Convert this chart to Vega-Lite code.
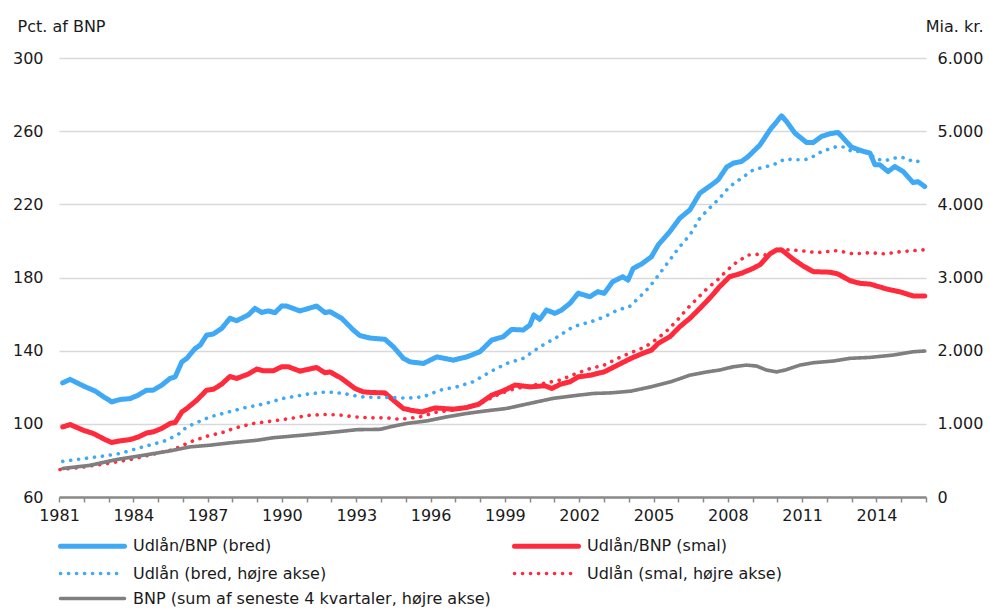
{
  "$schema": "https://vega.github.io/schema/vega-lite/v6.json",
  "width": 867,
  "height": 439,
  "autosize": {"type": "none"},
  "padding": {"left": 59, "top": 58, "right": 64, "bottom": 113},
  "background": "white",
  "config": {
    "font": "DejaVu Sans",
    "view": {"stroke": null},
    "axis": {"labelFont": "DejaVu Sans", "labelFontSize": 16, "labelColor": "#1a1a1a", "titleFont": "DejaVu Sans", "titleFontSize": 16, "titleFontWeight": "normal", "titleColor": "#1a1a1a"},
    "legend": {"labelFont": "DejaVu Sans", "labelFontSize": 16, "labelColor": "#1a1a1a"}
  },
  "datasets": {
    "left": [
      {"s":"Udlån/BNP (bred)","t":1981.15,"v":122.4},{"s":"Udlån/BNP (bred)","t":1981.45,"v":124.3},{"s":"Udlån/BNP (bred)","t":1982.0,"v":120.6},{"s":"Udlån/BNP (bred)","t":1982.46,"v":117.9},{"s":"Udlån/BNP (bred)","t":1982.8,"v":114.8},{"s":"Udlån/BNP (bred)","t":1983.13,"v":112.0},{"s":"Udlån/BNP (bred)","t":1983.47,"v":113.3},{"s":"Udlån/BNP (bred)","t":1983.87,"v":113.8},{"s":"Udlån/BNP (bred)","t":1984.2,"v":115.7},{"s":"Udlån/BNP (bred)","t":1984.54,"v":118.4},{"s":"Udlån/BNP (bred)","t":1984.8,"v":118.4},{"s":"Udlån/BNP (bred)","t":1985.15,"v":121.2},{"s":"Udlån/BNP (bred)","t":1985.48,"v":124.8},{"s":"Udlån/BNP (bred)","t":1985.69,"v":125.7},{"s":"Udlån/BNP (bred)","t":1985.96,"v":133.9},{"s":"Udlån/BNP (bred)","t":1986.16,"v":135.8},{"s":"Udlån/BNP (bred)","t":1986.5,"v":141.2},{"s":"Udlån/BNP (bred)","t":1986.7,"v":143.0},{"s":"Udlån/BNP (bred)","t":1986.96,"v":148.5},{"s":"Udlån/BNP (bred)","t":1987.23,"v":149.1},{"s":"Udlån/BNP (bred)","t":1987.57,"v":152.2},{"s":"Udlån/BNP (bred)","t":1987.9,"v":157.7},{"s":"Udlån/BNP (bred)","t":1988.17,"v":156.4},{"s":"Udlån/BNP (bred)","t":1988.64,"v":159.5},{"s":"Udlån/BNP (bred)","t":1988.91,"v":163.1},{"s":"Udlån/BNP (bred)","t":1989.18,"v":160.9},{"s":"Udlån/BNP (bred)","t":1989.45,"v":161.7},{"s":"Udlån/BNP (bred)","t":1989.72,"v":160.8},{"s":"Udlån/BNP (bred)","t":1989.99,"v":164.4},{"s":"Udlån/BNP (bred)","t":1990.19,"v":164.4},{"s":"Udlån/BNP (bred)","t":1990.73,"v":161.7},{"s":"Udlån/BNP (bred)","t":1991.4,"v":164.4},{"s":"Udlån/BNP (bred)","t":1991.74,"v":160.8},{"s":"Udlån/BNP (bred)","t":1991.94,"v":161.3},{"s":"Udlån/BNP (bred)","t":1992.41,"v":157.7},{"s":"Udlån/BNP (bred)","t":1992.88,"v":151.3},{"s":"Udlån/BNP (bred)","t":1993.15,"v":148.2},{"s":"Udlån/BNP (bred)","t":1993.55,"v":146.9},{"s":"Udlån/BNP (bred)","t":1994.16,"v":146.2},{"s":"Udlån/BNP (bred)","t":1994.5,"v":142.1},{"s":"Udlån/BNP (bred)","t":1994.9,"v":135.8},{"s":"Udlån/BNP (bred)","t":1995.17,"v":133.9},{"s":"Udlån/BNP (bred)","t":1995.71,"v":133.0},{"s":"Udlån/BNP (bred)","t":1996.25,"v":136.6},{"s":"Udlån/BNP (bred)","t":1996.92,"v":134.8},{"s":"Udlån/BNP (bred)","t":1997.46,"v":136.6},{"s":"Udlån/BNP (bred)","t":1997.99,"v":139.4},{"s":"Udlån/BNP (bred)","t":1998.47,"v":145.8},{"s":"Udlån/BNP (bred)","t":1998.93,"v":147.6},{"s":"Udlån/BNP (bred)","t":1999.27,"v":151.6},{"s":"Udlån/BNP (bred)","t":1999.74,"v":151.3},{"s":"Udlån/BNP (bred)","t":2000.01,"v":154.0},{"s":"Udlån/BNP (bred)","t":2000.17,"v":159.5},{"s":"Udlån/BNP (bred)","t":2000.41,"v":157.1},{"s":"Udlån/BNP (bred)","t":2000.68,"v":162.2},{"s":"Udlån/BNP (bred)","t":2001.02,"v":160.4},{"s":"Udlån/BNP (bred)","t":2001.29,"v":162.2},{"s":"Udlån/BNP (bred)","t":2001.63,"v":165.9},{"s":"Udlån/BNP (bred)","t":2001.96,"v":171.4},{"s":"Udlån/BNP (bred)","t":2002.43,"v":169.5},{"s":"Udlån/BNP (bred)","t":2002.74,"v":172.2},{"s":"Udlån/BNP (bred)","t":2003.01,"v":171.3},{"s":"Udlån/BNP (bred)","t":2003.35,"v":177.7},{"s":"Udlån/BNP (bred)","t":2003.76,"v":180.4},{"s":"Udlån/BNP (bred)","t":2003.97,"v":178.6},{"s":"Udlån/BNP (bred)","t":2004.18,"v":185.0},{"s":"Udlån/BNP (bred)","t":2004.52,"v":187.4},{"s":"Udlån/BNP (bred)","t":2004.92,"v":191.4},{"s":"Udlån/BNP (bred)","t":2005.19,"v":197.8},{"s":"Udlån/BNP (bred)","t":2005.66,"v":205.1},{"s":"Udlån/BNP (bred)","t":2006.06,"v":212.4},{"s":"Udlån/BNP (bred)","t":2006.47,"v":217.0},{"s":"Udlån/BNP (bred)","t":2006.87,"v":226.1},{"s":"Udlån/BNP (bred)","t":2007.34,"v":230.6},{"s":"Udlån/BNP (bred)","t":2007.61,"v":233.4},{"s":"Udlån/BNP (bred)","t":2007.95,"v":240.3},{"s":"Udlån/BNP (bred)","t":2008.22,"v":242.5},{"s":"Udlån/BNP (bred)","t":2008.55,"v":243.4},{"s":"Udlån/BNP (bred)","t":2008.82,"v":246.1},{"s":"Udlån/BNP (bred)","t":2009.3,"v":252.5},{"s":"Udlån/BNP (bred)","t":2009.7,"v":260.7},{"s":"Udlån/BNP (bred)","t":2010.17,"v":268.4},{"s":"Udlån/BNP (bred)","t":2010.37,"v":265.3},{"s":"Udlån/BNP (bred)","t":2010.71,"v":258.9},{"s":"Udlån/BNP (bred)","t":2011.18,"v":253.8},{"s":"Udlån/BNP (bred)","t":2011.45,"v":253.8},{"s":"Udlån/BNP (bred)","t":2011.78,"v":257.1},{"s":"Udlån/BNP (bred)","t":2012.12,"v":258.6},{"s":"Udlån/BNP (bred)","t":2012.45,"v":259.3},{"s":"Udlån/BNP (bred)","t":2012.66,"v":256.2},{"s":"Udlån/BNP (bred)","t":2012.99,"v":251.3},{"s":"Udlån/BNP (bred)","t":2013.4,"v":249.3},{"s":"Udlån/BNP (bred)","t":2013.74,"v":248.0},{"s":"Udlån/BNP (bred)","t":2013.94,"v":241.6},{"s":"Udlån/BNP (bred)","t":2014.14,"v":241.6},{"s":"Udlån/BNP (bred)","t":2014.47,"v":237.9},{"s":"Udlån/BNP (bred)","t":2014.74,"v":240.7},{"s":"Udlån/BNP (bred)","t":2015.08,"v":237.9},{"s":"Udlån/BNP (bred)","t":2015.48,"v":231.9},{"s":"Udlån/BNP (bred)","t":2015.68,"v":232.4},{"s":"Udlån/BNP (bred)","t":2015.95,"v":229.7},
      {"s":"Udlån/BNP (smal)","t":1981.15,"v":98.3},{"s":"Udlån/BNP (smal)","t":1981.45,"v":99.6},{"s":"Udlån/BNP (smal)","t":1981.98,"v":96.5},{"s":"Udlån/BNP (smal)","t":1982.39,"v":94.7},{"s":"Udlån/BNP (smal)","t":1982.86,"v":91.4},{"s":"Udlån/BNP (smal)","t":1983.13,"v":89.8},{"s":"Udlån/BNP (smal)","t":1983.47,"v":90.7},{"s":"Udlån/BNP (smal)","t":1983.87,"v":91.4},{"s":"Udlån/BNP (smal)","t":1984.2,"v":92.8},{"s":"Udlån/BNP (smal)","t":1984.54,"v":95.0},{"s":"Udlån/BNP (smal)","t":1984.8,"v":95.6},{"s":"Udlån/BNP (smal)","t":1985.15,"v":97.5},{"s":"Udlån/BNP (smal)","t":1985.48,"v":100.2},{"s":"Udlån/BNP (smal)","t":1985.69,"v":100.7},{"s":"Udlån/BNP (smal)","t":1985.96,"v":106.5},{"s":"Udlån/BNP (smal)","t":1986.16,"v":108.4},{"s":"Udlån/BNP (smal)","t":1986.56,"v":112.9},{"s":"Udlån/BNP (smal)","t":1986.96,"v":118.4},{"s":"Udlån/BNP (smal)","t":1987.23,"v":118.9},{"s":"Udlån/BNP (smal)","t":1987.57,"v":121.7},{"s":"Udlån/BNP (smal)","t":1987.9,"v":125.9},{"s":"Udlån/BNP (smal)","t":1988.17,"v":124.8},{"s":"Udlån/BNP (smal)","t":1988.64,"v":127.2},{"s":"Udlån/BNP (smal)","t":1988.98,"v":129.9},{"s":"Udlån/BNP (smal)","t":1989.25,"v":129.0},{"s":"Udlån/BNP (smal)","t":1989.65,"v":129.0},{"s":"Udlån/BNP (smal)","t":1989.99,"v":131.2},{"s":"Udlån/BNP (smal)","t":1990.26,"v":131.2},{"s":"Udlån/BNP (smal)","t":1990.73,"v":128.8},{"s":"Udlån/BNP (smal)","t":1991.4,"v":130.8},{"s":"Udlån/BNP (smal)","t":1991.74,"v":127.9},{"s":"Udlån/BNP (smal)","t":1991.94,"v":128.4},{"s":"Udlån/BNP (smal)","t":1992.41,"v":124.8},{"s":"Udlån/BNP (smal)","t":1992.95,"v":119.3},{"s":"Udlån/BNP (smal)","t":1993.28,"v":117.5},{"s":"Udlån/BNP (smal)","t":1993.55,"v":117.2},{"s":"Udlån/BNP (smal)","t":1994.16,"v":116.9},{"s":"Udlån/BNP (smal)","t":1994.5,"v":112.9},{"s":"Udlån/BNP (smal)","t":1994.9,"v":108.4},{"s":"Udlån/BNP (smal)","t":1995.17,"v":107.5},{"s":"Udlån/BNP (smal)","t":1995.64,"v":106.5},{"s":"Udlån/BNP (smal)","t":1996.18,"v":108.7},{"s":"Udlån/BNP (smal)","t":1996.92,"v":108.0},{"s":"Udlån/BNP (smal)","t":1997.46,"v":108.9},{"s":"Udlån/BNP (smal)","t":1997.93,"v":110.6},{"s":"Udlån/BNP (smal)","t":1998.47,"v":115.7},{"s":"Udlån/BNP (smal)","t":1998.93,"v":118.0},{"s":"Udlån/BNP (smal)","t":1999.41,"v":121.2},{"s":"Udlån/BNP (smal)","t":2000.01,"v":120.2},{"s":"Udlån/BNP (smal)","t":2000.62,"v":120.8},{"s":"Udlån/BNP (smal)","t":2000.89,"v":119.3},{"s":"Udlån/BNP (smal)","t":2001.22,"v":121.5},{"s":"Udlån/BNP (smal)","t":2001.63,"v":123.0},{"s":"Udlån/BNP (smal)","t":2001.96,"v":125.7},{"s":"Udlån/BNP (smal)","t":2002.47,"v":126.6},{"s":"Udlån/BNP (smal)","t":2003.01,"v":128.4},{"s":"Udlån/BNP (smal)","t":2003.55,"v":132.1},{"s":"Udlån/BNP (smal)","t":2004.09,"v":135.8},{"s":"Udlån/BNP (smal)","t":2004.63,"v":138.9},{"s":"Udlån/BNP (smal)","t":2004.92,"v":140.3},{"s":"Udlån/BNP (smal)","t":2005.19,"v":144.0},{"s":"Udlån/BNP (smal)","t":2005.66,"v":147.6},{"s":"Udlån/BNP (smal)","t":2006.06,"v":153.1},{"s":"Udlån/BNP (smal)","t":2006.47,"v":157.7},{"s":"Udlån/BNP (smal)","t":2006.87,"v":163.1},{"s":"Udlån/BNP (smal)","t":2007.26,"v":168.6},{"s":"Udlån/BNP (smal)","t":2007.67,"v":175.0},{"s":"Udlån/BNP (smal)","t":2008.07,"v":180.4},{"s":"Udlån/BNP (smal)","t":2008.55,"v":182.3},{"s":"Udlån/BNP (smal)","t":2009.02,"v":185.0},{"s":"Udlån/BNP (smal)","t":2009.3,"v":187.0},{"s":"Udlån/BNP (smal)","t":2009.7,"v":192.9},{"s":"Udlån/BNP (smal)","t":2009.97,"v":195.1},{"s":"Udlån/BNP (smal)","t":2010.17,"v":195.1},{"s":"Udlån/BNP (smal)","t":2010.64,"v":190.0},{"s":"Udlån/BNP (smal)","t":2011.04,"v":186.3},{"s":"Udlån/BNP (smal)","t":2011.45,"v":183.2},{"s":"Udlån/BNP (smal)","t":2012.12,"v":182.9},{"s":"Udlån/BNP (smal)","t":2012.45,"v":181.9},{"s":"Udlån/BNP (smal)","t":2012.93,"v":178.3},{"s":"Udlån/BNP (smal)","t":2013.33,"v":176.8},{"s":"Udlån/BNP (smal)","t":2013.74,"v":176.4},{"s":"Udlån/BNP (smal)","t":2014.47,"v":173.5},{"s":"Udlån/BNP (smal)","t":2014.94,"v":172.2},{"s":"Udlån/BNP (smal)","t":2015.48,"v":169.9},{"s":"Udlån/BNP (smal)","t":2015.95,"v":169.9}
    ],
    "right": [
      {"s":"Udlån (bred, højre akse)","t":1981.15,"v":487},{"s":"Udlån (bred, højre akse)","t":1981.98,"v":525},{"s":"Udlån (bred, højre akse)","t":1982.8,"v":560},{"s":"Udlån (bred, højre akse)","t":1983.47,"v":595},{"s":"Udlån (bred, højre akse)","t":1984.14,"v":662},{"s":"Udlån (bred, højre akse)","t":1984.8,"v":722},{"s":"Udlån (bred, højre akse)","t":1985.35,"v":775},{"s":"Udlån (bred, højre akse)","t":1985.82,"v":858},{"s":"Udlån (bred, højre akse)","t":1986.16,"v":958},{"s":"Udlån (bred, højre akse)","t":1986.63,"v":1027},{"s":"Udlån (bred, højre akse)","t":1987.1,"v":1095},{"s":"Udlån (bred, højre akse)","t":1987.8,"v":1158},{"s":"Udlån (bred, højre akse)","t":1988.5,"v":1220},{"s":"Udlån (bred, højre akse)","t":1989.25,"v":1270},{"s":"Udlån (bred, højre akse)","t":1990.06,"v":1348},{"s":"Udlån (bred, højre akse)","t":1991.0,"v":1405},{"s":"Udlån (bred, højre akse)","t":1991.81,"v":1438},{"s":"Udlån (bred, højre akse)","t":1992.48,"v":1415},{"s":"Udlån (bred, højre akse)","t":1993.15,"v":1370},{"s":"Udlån (bred, højre akse)","t":1993.82,"v":1360},{"s":"Udlån (bred, højre akse)","t":1994.5,"v":1360},{"s":"Udlån (bred, højre akse)","t":1995.04,"v":1350},{"s":"Udlån (bred, højre akse)","t":1995.71,"v":1370},{"s":"Udlån (bred, højre akse)","t":1996.38,"v":1460},{"s":"Udlån (bred, højre akse)","t":1997.05,"v":1505},{"s":"Udlån (bred, højre akse)","t":1997.72,"v":1575},{"s":"Udlån (bred, højre akse)","t":1998.4,"v":1710},{"s":"Udlån (bred, højre akse)","t":1999.07,"v":1825},{"s":"Udlån (bred, højre akse)","t":1999.74,"v":1895},{"s":"Udlån (bred, højre akse)","t":2000.41,"v":2052},{"s":"Udlån (bred, højre akse)","t":2001.09,"v":2182},{"s":"Udlån (bred, højre akse)","t":2001.76,"v":2328},{"s":"Udlån (bred, højre akse)","t":2002.47,"v":2395},{"s":"Udlån (bred, højre akse)","t":2003.01,"v":2462},{"s":"Udlån (bred, højre akse)","t":2003.55,"v":2555},{"s":"Udlån (bred, højre akse)","t":2004.02,"v":2600},{"s":"Udlån (bred, højre akse)","t":2004.45,"v":2738},{"s":"Udlån (bred, højre akse)","t":2004.85,"v":2875},{"s":"Udlån (bred, højre akse)","t":2005.26,"v":3058},{"s":"Udlån (bred, højre akse)","t":2005.66,"v":3240},{"s":"Udlån (bred, højre akse)","t":2006.06,"v":3422},{"s":"Udlån (bred, højre akse)","t":2006.47,"v":3582},{"s":"Udlån (bred, højre akse)","t":2006.87,"v":3810},{"s":"Udlån (bred, højre akse)","t":2007.26,"v":3948},{"s":"Udlån (bred, højre akse)","t":2007.67,"v":4085},{"s":"Udlån (bred, højre akse)","t":2008.07,"v":4242},{"s":"Udlån (bred, højre akse)","t":2008.55,"v":4358},{"s":"Udlån (bred, højre akse)","t":2009.02,"v":4470},{"s":"Udlån (bred, højre akse)","t":2009.3,"v":4495},{"s":"Udlån (bred, højre akse)","t":2009.84,"v":4540},{"s":"Udlån (bred, højre akse)","t":2010.31,"v":4618},{"s":"Udlån (bred, højre akse)","t":2010.92,"v":4608},{"s":"Udlån (bred, højre akse)","t":2011.26,"v":4618},{"s":"Udlån (bred, højre akse)","t":2011.79,"v":4722},{"s":"Udlån (bred, højre akse)","t":2012.4,"v":4790},{"s":"Udlån (bred, højre akse)","t":2012.73,"v":4782},{"s":"Udlån (bred, højre akse)","t":2013.0,"v":4722},{"s":"Udlån (bred, højre akse)","t":2013.33,"v":4722},{"s":"Udlån (bred, højre akse)","t":2013.67,"v":4700},{"s":"Udlån (bred, højre akse)","t":2014.01,"v":4618},{"s":"Udlån (bred, højre akse)","t":2014.34,"v":4595},{"s":"Udlån (bred, højre akse)","t":2014.88,"v":4645},{"s":"Udlån (bred, højre akse)","t":2015.22,"v":4632},{"s":"Udlån (bred, højre akse)","t":2015.48,"v":4578},{"s":"Udlån (bred, højre akse)","t":2015.9,"v":4598},
      {"s":"Udlån (smal, højre akse)","t":1981.04,"v":375},{"s":"Udlån (smal, højre akse)","t":1982.0,"v":410},{"s":"Udlån (smal, højre akse)","t":1982.93,"v":457},{"s":"Udlån (smal, højre akse)","t":1983.87,"v":512},{"s":"Udlån (smal, højre akse)","t":1984.81,"v":585},{"s":"Udlån (smal, højre akse)","t":1985.62,"v":648},{"s":"Udlån (smal, højre akse)","t":1986.29,"v":752},{"s":"Udlån (smal, højre akse)","t":1986.96,"v":830},{"s":"Udlån (smal, højre akse)","t":1987.7,"v":890},{"s":"Udlån (smal, højre akse)","t":1988.04,"v":938},{"s":"Udlån (smal, højre akse)","t":1988.85,"v":1005},{"s":"Udlån (smal, højre akse)","t":1989.65,"v":1040},{"s":"Udlån (smal, højre akse)","t":1990.33,"v":1073},{"s":"Udlån (smal, højre akse)","t":1991.13,"v":1118},{"s":"Udlån (smal, højre akse)","t":1991.81,"v":1128},{"s":"Udlån (smal, højre akse)","t":1992.41,"v":1118},{"s":"Udlån (smal, højre akse)","t":1992.95,"v":1095},{"s":"Udlån (smal, højre akse)","t":1993.55,"v":1082},{"s":"Udlån (smal, højre akse)","t":1994.23,"v":1082},{"s":"Udlån (smal, højre akse)","t":1994.77,"v":1062},{"s":"Udlån (smal, højre akse)","t":1995.57,"v":1095},{"s":"Udlån (smal, højre akse)","t":1996.25,"v":1162},{"s":"Udlån (smal, højre akse)","t":1996.92,"v":1187},{"s":"Udlån (smal, højre akse)","t":1997.59,"v":1232},{"s":"Udlån (smal, højre akse)","t":1998.13,"v":1300},{"s":"Udlån (smal, højre akse)","t":1998.67,"v":1392},{"s":"Udlån (smal, højre akse)","t":1999.2,"v":1460},{"s":"Udlån (smal, højre akse)","t":1999.88,"v":1515},{"s":"Udlån (smal, højre akse)","t":2000.55,"v":1552},{"s":"Udlån (smal, højre akse)","t":2001.22,"v":1598},{"s":"Udlån (smal, højre akse)","t":2001.9,"v":1690},{"s":"Udlån (smal, højre akse)","t":2002.47,"v":1758},{"s":"Udlån (smal, højre akse)","t":2003.01,"v":1802},{"s":"Udlån (smal, højre akse)","t":2003.55,"v":1895},{"s":"Udlån (smal, højre akse)","t":2004.09,"v":1972},{"s":"Udlån (smal, højre akse)","t":2004.63,"v":2045},{"s":"Udlån (smal, højre akse)","t":2005.17,"v":2168},{"s":"Udlån (smal, højre akse)","t":2005.57,"v":2282},{"s":"Udlån (smal, højre akse)","t":2005.97,"v":2420},{"s":"Udlån (smal, højre akse)","t":2006.37,"v":2578},{"s":"Udlån (smal, højre akse)","t":2006.77,"v":2715},{"s":"Udlån (smal, højre akse)","t":2007.17,"v":2852},{"s":"Udlån (smal, højre akse)","t":2007.58,"v":2965},{"s":"Udlån (smal, højre akse)","t":2007.98,"v":3102},{"s":"Udlån (smal, højre akse)","t":2008.38,"v":3218},{"s":"Udlån (smal, højre akse)","t":2008.85,"v":3308},{"s":"Udlån (smal, højre akse)","t":2009.25,"v":3318},{"s":"Udlån (smal, højre akse)","t":2009.57,"v":3308},{"s":"Udlån (smal, højre akse)","t":2010.11,"v":3385},{"s":"Udlån (smal, højre akse)","t":2010.92,"v":3368},{"s":"Udlån (smal, højre akse)","t":2011.59,"v":3340},{"s":"Udlån (smal, højre akse)","t":2012.4,"v":3368},{"s":"Udlån (smal, højre akse)","t":2013.07,"v":3322},{"s":"Udlån (smal, højre akse)","t":2013.74,"v":3340},{"s":"Udlån (smal, højre akse)","t":2014.34,"v":3322},{"s":"Udlån (smal, højre akse)","t":2014.95,"v":3352},{"s":"Udlån (smal, højre akse)","t":2015.89,"v":3378},
      {"s":"BNP (sum af seneste 4 kvartaler, højre akse)","t":1981.15,"v":390},{"s":"BNP (sum af seneste 4 kvartaler, højre akse)","t":1982.25,"v":433},{"s":"BNP (sum af seneste 4 kvartaler, højre akse)","t":1983.33,"v":512},{"s":"BNP (sum af seneste 4 kvartaler, højre akse)","t":1984.4,"v":570},{"s":"BNP (sum af seneste 4 kvartaler, højre akse)","t":1985.48,"v":630},{"s":"BNP (sum af seneste 4 kvartaler, højre akse)","t":1986.29,"v":685},{"s":"BNP (sum af seneste 4 kvartaler, højre akse)","t":1987.1,"v":708},{"s":"BNP (sum af seneste 4 kvartaler, højre akse)","t":1987.9,"v":740},{"s":"BNP (sum af seneste 4 kvartaler, højre akse)","t":1988.98,"v":775},{"s":"BNP (sum af seneste 4 kvartaler, højre akse)","t":1989.65,"v":810},{"s":"BNP (sum af seneste 4 kvartaler, højre akse)","t":1991.0,"v":850},{"s":"BNP (sum af seneste 4 kvartaler, højre akse)","t":1992.34,"v":895},{"s":"BNP (sum af seneste 4 kvartaler, højre akse)","t":1993.02,"v":920},{"s":"BNP (sum af seneste 4 kvartaler, højre akse)","t":1993.96,"v":925},{"s":"BNP (sum af seneste 4 kvartaler, højre akse)","t":1994.5,"v":968},{"s":"BNP (sum af seneste 4 kvartaler, højre akse)","t":1995.04,"v":1005},{"s":"BNP (sum af seneste 4 kvartaler, højre akse)","t":1995.85,"v":1040},{"s":"BNP (sum af seneste 4 kvartaler, højre akse)","t":1996.65,"v":1095},{"s":"BNP (sum af seneste 4 kvartaler, højre akse)","t":1997.46,"v":1142},{"s":"BNP (sum af seneste 4 kvartaler, højre akse)","t":1998.26,"v":1178},{"s":"BNP (sum af seneste 4 kvartaler, højre akse)","t":1999.07,"v":1210},{"s":"BNP (sum af seneste 4 kvartaler, højre akse)","t":1999.88,"v":1270},{"s":"BNP (sum af seneste 4 kvartaler, højre akse)","t":2000.95,"v":1348},{"s":"BNP (sum af seneste 4 kvartaler, højre akse)","t":2001.76,"v":1383},{"s":"BNP (sum af seneste 4 kvartaler, højre akse)","t":2002.57,"v":1415},{"s":"BNP (sum af seneste 4 kvartaler, højre akse)","t":2003.27,"v":1423},{"s":"BNP (sum af seneste 4 kvartaler, højre akse)","t":2004.09,"v":1447},{"s":"BNP (sum af seneste 4 kvartaler, højre akse)","t":2004.89,"v":1505},{"s":"BNP (sum af seneste 4 kvartaler, højre akse)","t":2005.7,"v":1575},{"s":"BNP (sum af seneste 4 kvartaler, højre akse)","t":2006.47,"v":1665},{"s":"BNP (sum af seneste 4 kvartaler, højre akse)","t":2007.17,"v":1710},{"s":"BNP (sum af seneste 4 kvartaler, højre akse)","t":2007.67,"v":1735},{"s":"BNP (sum af seneste 4 kvartaler, højre akse)","t":2008.22,"v":1780},{"s":"BNP (sum af seneste 4 kvartaler, højre akse)","t":2008.75,"v":1803},{"s":"BNP (sum af seneste 4 kvartaler, højre akse)","t":2009.16,"v":1790},{"s":"BNP (sum af seneste 4 kvartaler, højre akse)","t":2009.56,"v":1735},{"s":"BNP (sum af seneste 4 kvartaler, højre akse)","t":2009.97,"v":1710},{"s":"BNP (sum af seneste 4 kvartaler, højre akse)","t":2010.31,"v":1735},{"s":"BNP (sum af seneste 4 kvartaler, højre akse)","t":2010.92,"v":1803},{"s":"BNP (sum af seneste 4 kvartaler, højre akse)","t":2011.45,"v":1835},{"s":"BNP (sum af seneste 4 kvartaler, højre akse)","t":2012.26,"v":1858},{"s":"BNP (sum af seneste 4 kvartaler, højre akse)","t":2012.93,"v":1895},{"s":"BNP (sum af seneste 4 kvartaler, højre akse)","t":2013.74,"v":1908},{"s":"BNP (sum af seneste 4 kvartaler, højre akse)","t":2014.68,"v":1940},{"s":"BNP (sum af seneste 4 kvartaler, højre akse)","t":2015.48,"v":1985},{"s":"BNP (sum af seneste 4 kvartaler, højre akse)","t":2015.95,"v":1995}
    ]
  },
  "encoding": {
    "x": {
      "field": "t", "type": "quantitative",
      "scale": {"domain": [1981, 2016], "nice": false, "zero": false},
      "axis": {
        "title": null, "grid": false, "format": "d",
        "values": [1981,1982,1983,1984,1985,1986,1987,1988,1989,1990,1991,1992,1993,1994,1995,1996,1997,1998,1999,2000,2001,2002,2003,2004,2005,2006,2007,2008,2009,2010,2011,2012,2013,2014,2015,2016],
        "labelExpr": "(datum.value - 1981) % 3 === 0 ? datum.label : ''",
        "labelOverlap": false, "labelFlush": false, "labelPadding": 5,
        "domainColor": "#8a8a8a", "domainWidth": 2.5,
        "tickColor": "#8a8a8a", "tickWidth": 1.5, "tickSize": 5
      }
    },
    "color": {
      "field": "s", "type": "nominal",
      "scale": {
        "domain": ["Udlån/BNP (bred)", "Udlån/BNP (smal)", "Udlån (bred, højre akse)", "Udlån (smal, højre akse)", "BNP (sum af seneste 4 kvartaler, højre akse)"],
        "range": ["#3FA9F5", "#FF2A3C", "#3FA9F5", "#FF2A3C", "#7F7F7F"]
      },
      "legend": {
        "title": null, "orient": "none", "direction": "horizontal", "legendX": -1, "legendY": 475.5,
        "columns": 2, "symbolType": "M-3.2,0H3.2", "symbolSize": 400,
        "symbolOffset": 22, "labelOffset": 28, "columnPadding": 13, "rowPadding": 5, "padding": 0,
        "labelLimit": 600, "labelFontSize": 16,
        "encode": {"symbols": {"update": {"strokeCap": {"value": "round"}, "fillOpacity": {"value": 0}}}}
      }
    },
    "strokeDash": {
      "field": "s", "type": "nominal",
      "scale": {
        "domain": ["Udlån/BNP (bred)", "Udlån/BNP (smal)", "Udlån (bred, højre akse)", "Udlån (smal, højre akse)", "BNP (sum af seneste 4 kvartaler, højre akse)"],
        "range": [[1, 0], [1, 0], [0.1, 7.9], [0.1, 7.9], [1, 0]]
      }
    },
    "strokeWidth": {
      "field": "s", "type": "nominal",
      "scale": {
        "type": "ordinal",
        "domain": ["Udlån/BNP (bred)", "Udlån/BNP (smal)", "Udlån (bred, højre akse)", "Udlån (smal, højre akse)", "BNP (sum af seneste 4 kvartaler, højre akse)"],
        "range": [5, 5, 3.6, 3.6, 3.6]
      }
    }
  },
  "layer": [
    {
      "data": {"name": "left"},
      "mark": {"type": "line", "strokeCap": "round", "strokeJoin": "round"},
      "encoding": {
        "y": {
          "field": "v", "type": "quantitative",
          "scale": {"domain": [60, 300], "nice": false, "zero": false},
          "axis": {
            "orient": "left", "values": [60, 100, 140, 180, 220, 260, 300],
            "grid": true, "gridColor": "#d9d9d9", "gridWidth": 1.5,
            "domain": false, "ticks": false, "labelPadding": 16,
            "title": "Pct. af BNP", "titleAngle": 0, "titleAlign": "left", "titleBaseline": "middle",
            "titleX": -42, "titleY": -32
          }
        }
      }
    },
    {
      "data": {"name": "right"},
      "mark": {"type": "line", "strokeCap": "round", "strokeJoin": "round"},
      "encoding": {
        "y": {
          "field": "v", "type": "quantitative",
          "scale": {"domain": [0, 6000], "nice": false, "zero": false},
          "axis": {
            "orient": "right", "values": [0, 1000, 2000, 3000, 4000, 5000, 6000],
            "grid": false, "domain": false, "ticks": false, "labelPadding": 11,
            "labelExpr": "replace(format(datum.value, ','), ',', '.')",
            "title": "Mia. kr.", "titleAngle": 0, "titleAlign": "right", "titleBaseline": "middle",
            "titleX": 57, "titleY": -32
          }
        }
      }
    }
  ],
  "resolve": {"scale": {"y": "independent"}}
}
